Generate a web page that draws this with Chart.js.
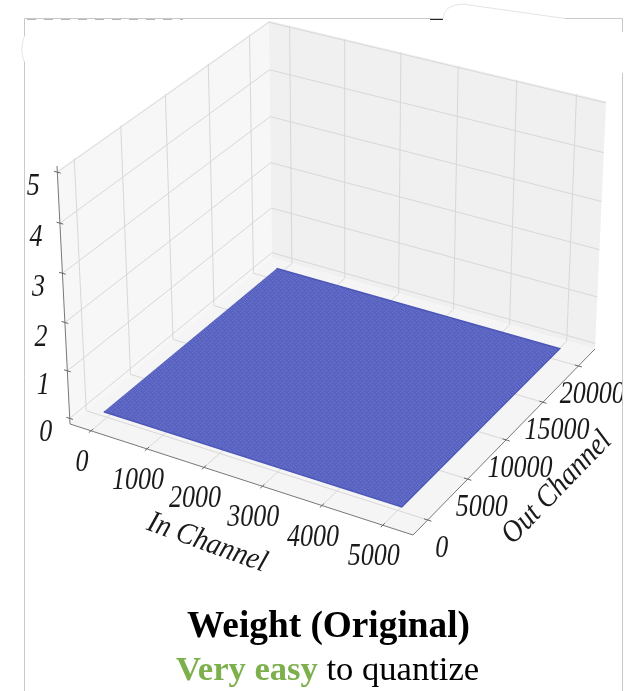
<!DOCTYPE html>
<html>
<head>
<meta charset="utf-8">
<title>Weight (Original)</title>
<style>
  html, body { margin: 0; padding: 0; background: #fff; }
  canvas { display: block; }
</style>
<script src="https://cdn.jsdelivr.net/npm/chart.js@4/dist/chart.umd.min.js"></script>
</head>
<body>
<canvas id="chart" width="626" height="691"></canvas>
<script>
// axis ticks
const inTicks = [0, 1000, 2000, 3000, 4000, 5000];
const outTicks = [0, 5000, 10000, 15000, 20000];
const zTicks = [0, 1, 2, 3, 4, 5];

// axis limits of the 3d box
const inLimits = [-381, 5488];
const outLimits = [-1784, 22416];
const zLimits = [-0.12, 5.12];
const wallTop = 5.03;

// the weight sheet, corners of the surface, values all close to zero
const surfaceIn = [-40, 5080, 5080, -40];
const surfaceOut = [-100, -100, 20700, 20700];
const surfaceZ = [0, 0, 0, 0];

// shade of the grain on the surface, one tile
const grainTile = [
  [0, 3, 1, 5, 0, 2, 6, 1],
  [4, 1, 6, 0, 3, 0, 2, 5],
  [1, 5, 0, 2, 7, 1, 0, 3],
  [6, 0, 3, 1, 0, 4, 2, 0],
  [0, 2, 5, 0, 4, 1, 6, 2],
  [3, 7, 0, 2, 1, 5, 0, 4],
  [1, 0, 4, 6, 0, 2, 3, 0],
  [5, 2, 1, 0, 3, 6, 1, 4]
];

// where the box corners landed in the picture, used for the camera
const cornerFront = [70, 424];
const cornerRight = [413, 535];
const cornerBack = [272, 258];
const cornerFar = [595, 349];
const cornerTop = [57, 166];
const zPerspective = 0.955;

function buildCamera() {
  const dx1 = cornerRight[0] - cornerFar[0], dx2 = cornerBack[0] - cornerFar[0];
  const dy1 = cornerRight[1] - cornerFar[1], dy2 = cornerBack[1] - cornerFar[1];
  const sx = cornerFront[0] - cornerRight[0] + cornerFar[0] - cornerBack[0];
  const sy = cornerFront[1] - cornerRight[1] + cornerFar[1] - cornerBack[1];
  const den = dx1 * dy2 - dx2 * dy1;
  const g = (sx * dy2 - dx2 * sy) / den;
  const h = (dx1 * sy - sx * dy1) / den;
  const s = zPerspective;
  return {
    x: [(1 + g) * cornerRight[0] - cornerFront[0], (1 + h) * cornerBack[0] - cornerFront[0], s * cornerTop[0] - cornerFront[0], cornerFront[0]],
    y: [(1 + g) * cornerRight[1] - cornerFront[1], (1 + h) * cornerBack[1] - cornerFront[1], s * cornerTop[1] - cornerFront[1], cornerFront[1]],
    w: [g, h, s - 1, 1]
  };
}
const camera = buildCamera();

function project(inCh, outCh, z) {
  const u = (inCh - inLimits[0]) / (inLimits[1] - inLimits[0]);
  const v = (outCh - outLimits[0]) / (outLimits[1] - outLimits[0]);
  const t = (z - zLimits[0]) / (zLimits[1] - zLimits[0]);
  const dot = (m) => m[0] * u + m[1] * v + m[2] * t + m[3];
  const w = dot(camera.w);
  return { x: dot(camera.x) / w, y: dot(camera.y) / w };
}

const [inLo, inHi] = inLimits;
const [outLo, outHi] = outLimits;
const [zLo, zHi] = zLimits;
const GRID = '#d8d8d8';
const AXIS = '#777777';
const TICK = '#666666';

const datasets = [];
function addLine(points, color, width) {
  datasets.push({
    data: points.map((p) => project(p[0], p[1], p[2])),
    showLine: true,
    borderColor: color,
    borderWidth: width,
    pointRadius: 0,
    fill: false
  });
}
function addPane(points, color) {
  datasets.push({
    data: points.map((p) => project(p[0], p[1], p[2])),
    showLine: true,
    borderWidth: 0,
    borderColor: color,
    backgroundColor: color,
    pointRadius: 0,
    fill: 'shape'
  });
}

// panes
addPane([[inLo, outLo, wallTop], [inLo, outHi, wallTop], [inLo, outHi, zLo], [inLo, outLo, zLo]], '#f7f7f7');
addPane([[inLo, outHi, wallTop], [inHi, outHi, wallTop], [inHi, outHi, zLo], [inLo, outHi, zLo]], '#f0f0f0');
addPane([[inLo, outLo, zLo], [inHi, outLo, zLo], [inHi, outHi, zLo], [inLo, outHi, zLo]], '#f5f5f5');

// grid, running over the floor and up the wall
inTicks.forEach((t) => addLine([[t, outLo, zLo], [t, outHi, zLo], [t, outHi, wallTop]], GRID, 1));
outTicks.forEach((t) => addLine([[inHi, t, zLo], [inLo, t, zLo], [inLo, t, wallTop]], GRID, 1));
zTicks.forEach((t) => addLine([[inLo, outLo, t], [inLo, outHi, t], [inHi, outHi, t]], GRID, 1));

// axis lines and tick marks
addLine([[inLo, outLo, zLo], [inHi, outLo, zLo], [inHi, outHi, zLo]], AXIS, 1);
addLine([[inLo, outLo, zLo], [inLo, outLo, zHi]], AXIS, 1);
inTicks.forEach((t) => addLine([[t, outLo - 240, zLo], [t, outLo + 240, zLo]], TICK, 1));
outTicks.forEach((t) => addLine([[inHi - 60, t, zLo], [inHi + 60, t, zLo]], TICK, 1));
zTicks.forEach((t) => addLine([[inLo - 60, outLo, t], [inLo + 60, outLo, t]], TICK, 1));

// surface, on top of everything else
function grainPattern() {
  const tile = document.createElement('canvas');
  tile.width = 8;
  tile.height = 8;
  const tc = tile.getContext('2d');
  grainTile.forEach((row, r) => row.forEach((shade, c) => {
    tc.fillStyle = `rgb(${102 - shade * 4}, ${112 - shade * 4}, ${202 - shade * 3})`;
    tc.fillRect(c, r, 1, 1);
  }));
  return tc.createPattern(tile, 'repeat');
}
datasets.push({
  data: surfaceIn.map((v, i) => project(v, surfaceOut[i], surfaceZ[i])),
  showLine: true,
  borderColor: '#4c57b8',
  borderWidth: 1.5,
  backgroundColor: grainPattern(),
  pointRadius: 0,
  fill: 'shape'
});

// first pushed gets painted first
datasets.forEach((d, i) => { d.order = datasets.length - i; });

const SERIF = '"Liberation Serif", "Times New Roman", serif';

// the labels in the reference are a bit taller than the font, hence the stretch
function drawText(ctx, text, x, y, font, color, angle, stretch) {
  ctx.save();
  ctx.translate(x, y);
  ctx.rotate((angle || 0) * Math.PI / 180);
  ctx.scale(1, stretch || 1);
  ctx.font = font;
  ctx.fillStyle = color;
  ctx.textAlign = 'center';
  ctx.textBaseline = 'middle';
  ctx.fillText(text, 0, 0);
  ctx.restore();
}

const framePlugin = {
  id: 'frame',
  afterDatasetsDraw(chart) {
    const ctx = chart.ctx;
    ctx.save();
    ctx.strokeStyle = '#c9c9c9';
    ctx.lineWidth = 1;
    ctx.beginPath();
    ctx.moveTo(24.5, 691);
    ctx.lineTo(24.5, 62);
    ctx.moveTo(24.5, 36);
    ctx.lineTo(24.5, 18.5);
    ctx.lineTo(443, 18.5);
    ctx.moveTo(565, 18.5);
    ctx.lineTo(622.5, 18.5);
    ctx.lineTo(622.5, 32);
    ctx.moveTo(622.5, 73);
    ctx.lineTo(622.5, 691);
    ctx.stroke();
    // torn bits of the screenshot
    ctx.strokeStyle = '#e4e4e4';
    ctx.beginPath();
    ctx.moveTo(24.5, 62);
    ctx.quadraticCurveTo(19, 50, 24.5, 36);
    ctx.moveTo(443, 18.5);
    ctx.quadraticCurveTo(444, 5, 462, 4);
    ctx.lineTo(565, 18.5);
    ctx.stroke();
    ctx.strokeStyle = '#222';
    ctx.beginPath();
    ctx.moveTo(430, 19.5);
    ctx.lineTo(443, 19.5);
    ctx.stroke();
    ctx.strokeStyle = '#b5b5b5';
    ctx.setLineDash([9, 8]);
    ctx.beginPath();
    ctx.moveTo(27, 19.5);
    ctx.lineTo(183, 19.5);
    ctx.stroke();
    ctx.restore();
  }
};

const labelPlugin = {
  id: 'labels',
  afterDraw(chart) {
    const ctx = chart.ctx;
    const tickFont = `italic 26px ${SERIF}`;
    const ink = '#1a1a1a';
    ctx.save();
    ctx.beginPath();
    ctx.rect(0, 0, 622, 691);
    ctx.clip();
    inTicks.forEach((t) => {
      const p = project(t, outLo, zLo);
      drawText(ctx, String(t), p.x - 9, p.y + 32, tickFont, ink, 0, 1.18);
    });
    outTicks.forEach((t) => {
      const p = project(inHi, t, zLo);
      drawText(ctx, String(t), p.x + 14, p.y + 29, tickFont, ink, 0, 1.18);
    });
    zTicks.forEach((t) => {
      const p = project(inLo, outLo, t);
      drawText(ctx, String(t), p.x - 24, p.y + 15, tickFont, ink, 0, 1.18);
    });
    const axisFont = `italic 28px ${SERIF}`;
    drawText(ctx, 'In Channel', 207, 543, axisFont, ink, 20, 1.1);
    drawText(ctx, 'Out Channel', 557, 488, axisFont, ink, -46, 1.1);
    ctx.restore();

    // caption
    drawText(ctx, 'Weight (Original)', 328.5, 627, `bold 37.3px ${SERIF}`, '#000');
    ctx.save();
    ctx.textBaseline = 'alphabetic';
    ctx.textAlign = 'left';
    ctx.font = `bold 34.6px ${SERIF}`;
    ctx.fillStyle = '#7cb04c';
    ctx.fillText('Very easy', 176, 680);
    const left = 176 + ctx.measureText('Very easy').width;
    ctx.font = `34.6px ${SERIF}`;
    ctx.fillStyle = '#000';
    ctx.fillText(' to quantize', left, 680);
    ctx.restore();
  }
};

new Chart(document.getElementById('chart'), {
  type: 'scatter',
  data: { datasets: datasets },
  options: {
    responsive: false,
    animation: false,
    layout: { padding: 0 },
    plugins: {
      legend: { display: false },
      tooltip: { enabled: false }
    },
    scales: {
      x: { type: 'linear', min: 0, max: 626, display: false },
      y: { type: 'linear', min: 0, max: 691, reverse: true, display: false }
    }
  },
  plugins: [framePlugin, labelPlugin]
});
</script>
</body>
</html>
